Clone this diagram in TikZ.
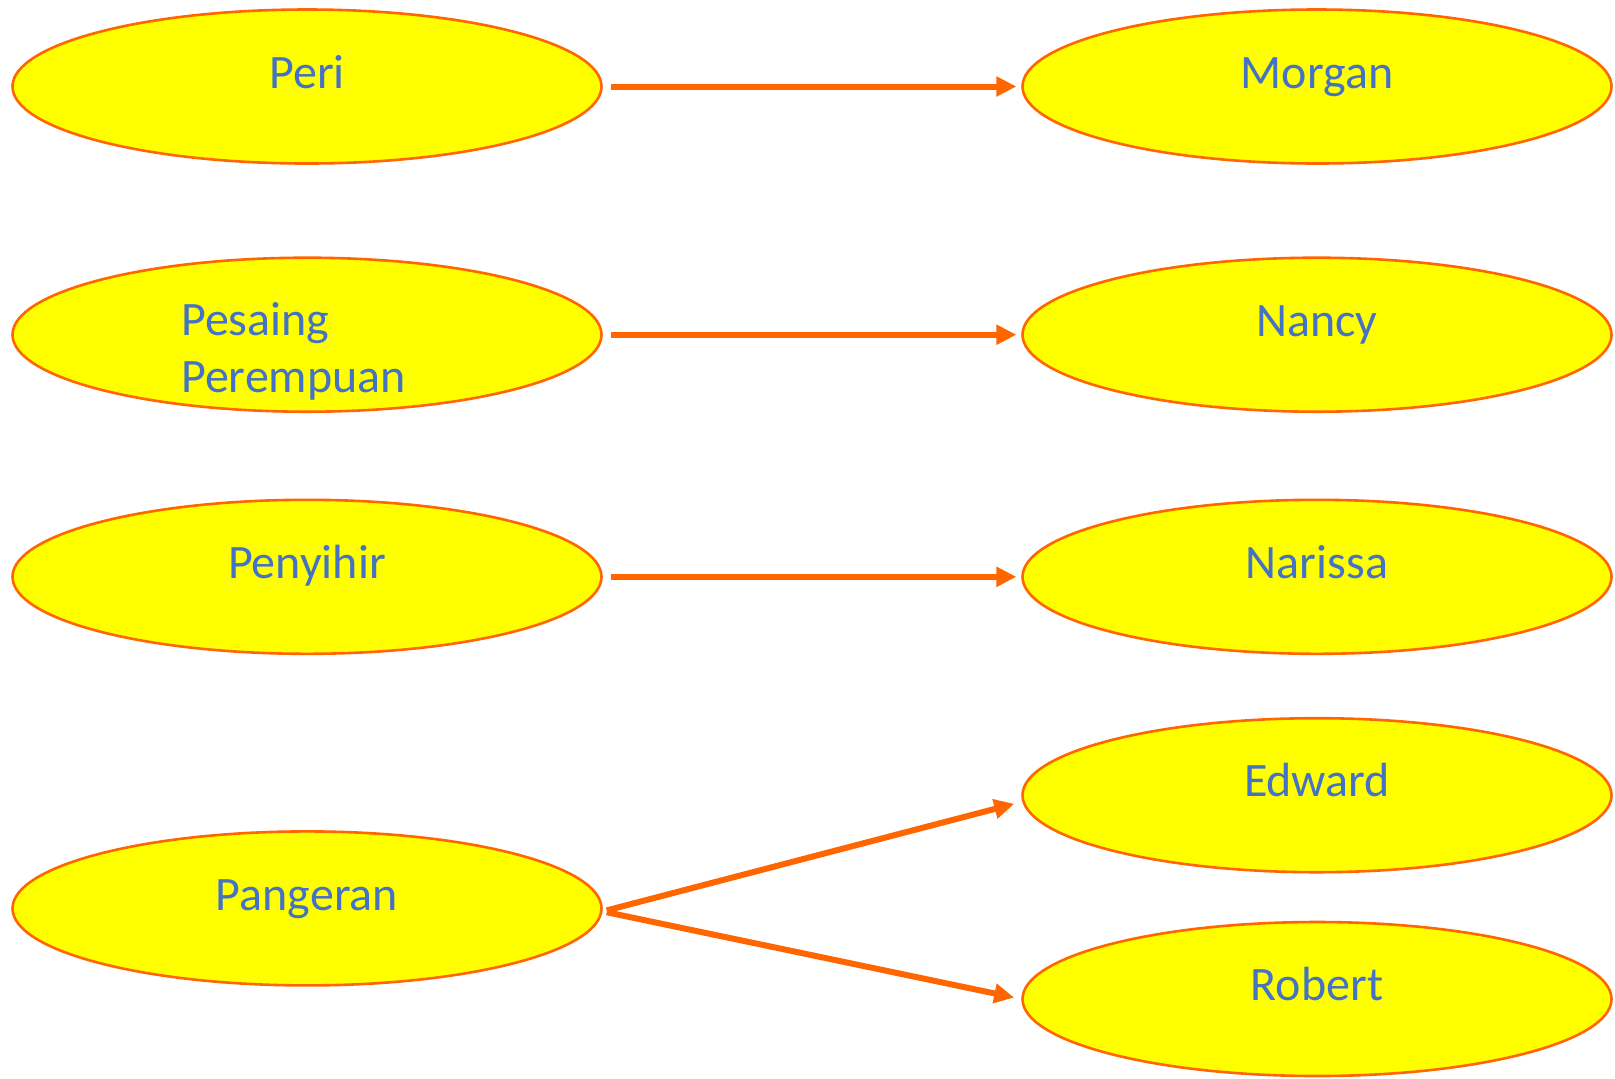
\documentclass[tikz,border=0pt]{standalone}
\usepackage{xcolor}
\usepackage{fontspec}
\setmainfont{Carlito}
\usepackage{tikz}
\usetikzlibrary{arrows.meta, shapes}

\definecolor{lineorange}{HTML}{FF6600}
\definecolor{nodeyellow}{HTML}{FFFF00}
\definecolor{textblue}{HTML}{4472C4}

\begin{document}
\begin{tikzpicture}[x=1pt,y=1pt]
		\tikzstyle{roleshape} = [ellipse, draw = lineorange, line width = 1.3pt, fill = nodeyellow,
			minimum width = 294.5pt, minimum height = 77pt, inner sep = 0pt]
		\tikzstyle{rolelabel} = [text = textblue, font = \fontsize{24}{28.4}\selectfont, inner sep = 0pt, anchor = base]
		\tikzstyle{rolelink} = [draw = lineorange, line width = 3pt,
			-{Triangle[length = 10pt, width = 9.5pt]}]
		\useasboundingbox (0,0) rectangle (807.5,-539);
			% left column
			\node[roleshape] (peri) at (153.5,-43.25) {};
			\node[roleshape] (pesaing) at (153.5,-167.35) {};
			\node[roleshape] (penyihir) at (153.5,-288.4) {};
			\node[roleshape] (pangeran) at (153.5,-454.2) {};
			% right column
			\node[roleshape] (morgan) at (658.5,-43.25) {};
			\node[roleshape] (nancy) at (658.5,-167.35) {};
			\node[roleshape] (narissa) at (658.5,-288.4) {};
			\node[roleshape] (edward) at (658.5,-397.6) {};
			\node[roleshape] (robert) at (658.5,-499.5) {};
			% texts
			\node[rolelabel] (periname) at ([yshift=-0.8pt]peri.center) {Peri};
			\node[rolelabel, align = left, anchor = west] (pesaingname) at (90.4,-175.8) {Pesaing\\Perempuan};
			\node[rolelabel] (penyihirname) at ([yshift=-0.8pt]penyihir.center) {Penyihir};
			\node[rolelabel] (pangeranname) at ([yshift=-0.8pt]pangeran.center) {Pangeran};
			\node[rolelabel] (morganname) at ([yshift=-0.8pt]morgan.center) {Morgan};
			\node[rolelabel] (nancyname) at ([yshift=-0.8pt]nancy.center) {Nancy};
			\node[rolelabel] (narissaname) at ([yshift=-0.8pt]narissa.center) {Narissa};
			\node[rolelabel] (edwardname) at ([yshift=-0.8pt]edward.center) {Edward};
			\node[rolelabel] (robertname) at ([yshift=-0.8pt]robert.center) {Robert};
			% arrows
			\path[rolelink, shorten <= 4.3pt, shorten >= 2.4pt] (peri.east) -- (morgan.west);
			\path[rolelink, shorten <= 4.3pt, shorten >= 2.4pt] (pesaing.east) -- (nancy.west);
			\path[rolelink, shorten <= 4.3pt, shorten >= 2.4pt] (penyihir.east) -- (narissa.west);
			\path[rolelink, shorten <= 2pt, shorten >= 3.6pt] ([yshift=-1.5pt]pangeran.east) -- ([yshift=-3.4pt]edward.west);
			\path[rolelink, shorten <= 2pt, shorten >= 3.6pt] ([yshift=-1.5pt]pangeran.east) -- (robert.west);
		\end{tikzpicture}
\end{document}
